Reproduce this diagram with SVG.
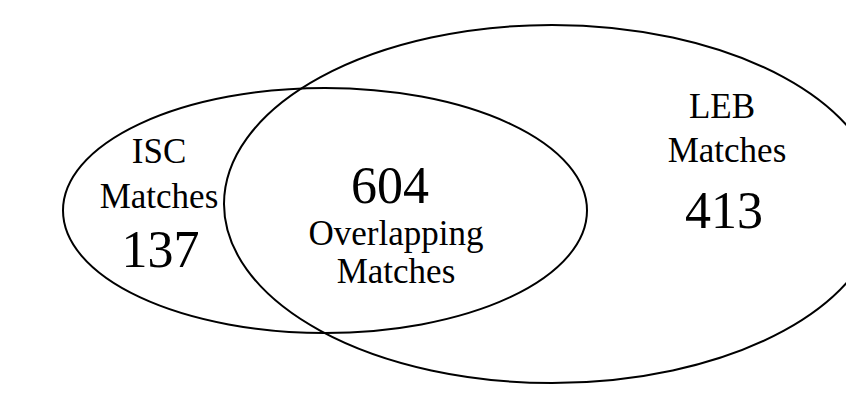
<svg xmlns="http://www.w3.org/2000/svg" width="846" height="395" viewBox="0 0 846 395">
  <style>
    .set { fill: none; stroke: #000; stroke-width: 2; }
    .lbl { font-family: "Liberation Serif", "Times New Roman", serif; font-size: 35px; fill: #000; text-anchor: middle; }
    .num { font-family: "Liberation Serif", "Times New Roman", serif; font-size: 52px; fill: #000; text-anchor: middle; }
  </style>
  <rect width="846" height="395" fill="#fff"/>
  <g id="sets">
    <ellipse id="isc-set" class="set" cx="325" cy="210.5" rx="262" ry="122.5"/>
    <ellipse id="leb-set" class="set" cx="552" cy="204" rx="328" ry="179"/>
  </g>
  <g id="isc-label">
    <text class="lbl" x="159" y="163">ISC</text>
    <text class="lbl" x="159" y="208">Matches</text>
    <text class="num" x="160.5" y="267">137</text>
  </g>
  <g id="overlap-label">
    <text class="num" x="390" y="203">604</text>
    <text class="lbl" x="396" y="245">Overlapping</text>
    <text class="lbl" x="396" y="283">Matches</text>
  </g>
  <g id="leb-label">
    <text class="lbl" x="722" y="118">LEB</text>
    <text class="lbl" x="727" y="162">Matches</text>
    <text class="num" x="724" y="228">413</text>
  </g>
</svg>
